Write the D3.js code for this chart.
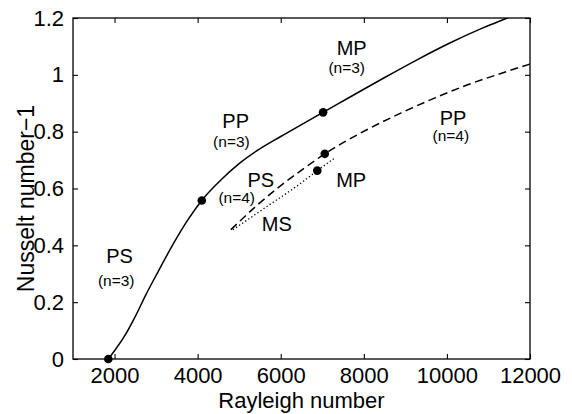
<!DOCTYPE html>
<html>
<head>
<meta charset="utf-8">
<script src="https://cdn.jsdelivr.net/npm/d3@7"></script>
<style>
  html, body { margin: 0; padding: 0; background: #fff; }
  svg { display: block; font-family: "Liberation Sans", Arial, Helvetica, sans-serif; }
</style>
</head>
<body>
<svg id="chart" width="572" height="414"></svg>
<script>
// Nusselt number − 1 versus Rayleigh number for the n=3 and n=4 branches
const solidRa  = [1850, 2290, 2500, 2750, 3010, 3410, 3740, 4100, 4540, 5020, 5420, 6000, 6500, 7020, 7670, 8470, 9270, 10070, 10880, 11450, 11700];
const solidNu  = [0, 0.093, 0.150, 0.225, 0.297, 0.404, 0.484, 0.558, 0.627, 0.690, 0.732, 0.783, 0.825, 0.868, 0.922, 0.988, 1.052, 1.112, 1.166, 1.2, 1.215];

const dashedRa = [4800, 5400, 6000, 6600, 7060, 8050, 8900, 9700, 10500, 11300, 12000];
const dashedNu = [0.455, 0.537, 0.61, 0.675, 0.722, 0.805, 0.866, 0.918, 0.965, 1.005, 1.038];

const dottedRa = [4850, 5650, 6450, 6880, 7300];
const dottedNu = [0.455, 0.535, 0.615, 0.663, 0.707];

// Transition points between regimes
const pointRa  = [1850, 4100, 7020, 7060, 6880];
const pointNu  = [0, 0.558, 0.868, 0.722, 0.663];

// Regime annotations
const labelText = ["PS", "(n=3)", "PP", "(n=3)", "MP", "(n=3)", "PS", "(n=4)", "MP", "MS", "PP", "(n=4)"];
const labelRa   = [2120, 2040, 4916, 4813, 7708, 7588, 5520, 4940, 7696, 5906, 10147, 10094];
const labelNu   = [0.337, 0.258, 0.812, 0.745, 1.07, 1.006, 0.606, 0.55, 0.606, 0.452, 0.825, 0.766];

const xTicks = [2000, 4000, 6000, 8000, 10000, 12000];
const yTicks = [0, 0.2, 0.4, 0.6, 0.8, 1, 1.2];

const margin = { left: 73, right: 42, top: 18, bottom: 55 };
const W = 572, H = 414;
const svg = d3.select("#chart");

const x = d3.scaleLinear().domain([1000, 12000]).range([margin.left, W - margin.right]);
const y = d3.scaleLinear().domain([0, 1.2]).range([H - margin.bottom, margin.top]);

svg.append("defs").append("clipPath").attr("id", "plot-clip")
  .append("rect")
  .attr("x", x(1000)).attr("y", y(1.2))
  .attr("width", x(12000) - x(1000)).attr("height", y(0) - y(1.2));

const tickLen = 5;
const fmtX = d3.format("d");
const fmtY = d => d3.format("")(d);

// Axes with inward ticks on all four sides
const axisStyle = g => {
  g.select(".domain").remove();
  g.selectAll(".tick line").attr("stroke", "#000").attr("stroke-width", 1.1);
  g.selectAll(".tick text").attr("fill", "#000").style("font-size", "22px");
};

svg.append("g")
  .attr("transform", `translate(0,${y(0)})`)
  .call(d3.axisBottom(x).tickValues(xTicks).tickFormat(fmtX).tickSizeInner(-tickLen).tickSizeOuter(0).tickPadding(8))
  .call(axisStyle);

svg.append("g")
  .attr("transform", `translate(0,${y(1.2)})`)
  .call(d3.axisTop(x).tickValues(xTicks).tickFormat("").tickSizeInner(-tickLen).tickSizeOuter(0))
  .call(axisStyle);

svg.append("g")
  .attr("transform", `translate(${x(1000)},0)`)
  .call(d3.axisLeft(y).tickValues(yTicks).tickFormat(fmtY).tickSizeInner(-tickLen).tickSizeOuter(0).tickPadding(9))
  .call(axisStyle);

svg.append("g")
  .attr("transform", `translate(${x(12000)},0)`)
  .call(d3.axisRight(y).tickValues(yTicks).tickFormat("").tickSizeInner(-tickLen).tickSizeOuter(0))
  .call(axisStyle);

// Frame
svg.append("rect")
  .attr("x", x(1000)).attr("y", y(1.2))
  .attr("width", x(12000) - x(1000)).attr("height", y(0) - y(1.2))
  .attr("fill", "none").attr("stroke", "#000").attr("stroke-width", 1.3);

// Curves
const line = d3.line().x(d => x(d[0])).y(d => y(d[1])).curve(d3.curveMonotoneX);
const curves = svg.append("g").attr("clip-path", "url(#plot-clip)");

curves.append("path")
  .attr("d", line(d3.zip(solidRa, solidNu)))
  .attr("fill", "none").attr("stroke", "#000").attr("stroke-width", 1.5);

curves.append("path")
  .attr("d", line(d3.zip(dashedRa, dashedNu)))
  .attr("fill", "none").attr("stroke", "#000").attr("stroke-width", 1.5)
  .attr("stroke-dasharray", "8,4.5");

curves.append("path")
  .attr("d", line(d3.zip(dottedRa, dottedNu)))
  .attr("fill", "none").attr("stroke", "#000").attr("stroke-width", 1.3)
  .attr("stroke-dasharray", "1.3,2.4");

// Transition markers
svg.append("g").selectAll("circle")
  .data(d3.zip(pointRa, pointNu))
  .join("circle")
  .attr("cx", d => x(d[0])).attr("cy", d => y(d[1]))
  .attr("r", 4.3).attr("fill", "#000");

// Regime labels
svg.append("g").selectAll("text")
  .data(labelText.map((t, i) => ({ t, ra: labelRa[i], nu: labelNu[i] })))
  .join("text")
  .attr("x", d => x(d.ra)).attr("y", d => y(d.nu))
  .attr("text-anchor", "middle")
  .style("font-size", d => d.t.startsWith("(") ? "15.5px" : "20px")
  .attr("fill", "#000")
  .text(d => d.t);

// Axis titles
svg.append("text")
  .attr("x", (x(1000) + x(12000)) / 2).attr("y", 408)
  .attr("text-anchor", "middle").style("font-size", "22px")
  .text("Rayleigh number");

svg.append("text")
  .attr("transform", `translate(34,${(y(0) + y(1.2)) / 2 + 10}) rotate(-90)`)
  .attr("text-anchor", "middle").style("font-size", "23px")
  .text("Nusselt number\u22121");
</script>
</body>
</html>
